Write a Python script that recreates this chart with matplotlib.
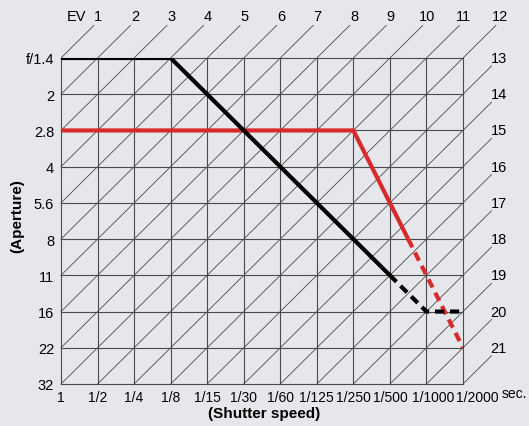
#!/usr/bin/env python3
import matplotlib
matplotlib.use("Agg")
import matplotlib.pyplot as plt
from matplotlib.transforms import ScaledTranslation

# shutter speeds (columns) and apertures (rows), one EV step apart
shutterLabels = ["1", "1/2", "1/4", "1/8", "1/15", "1/30", "1/60", "1/125",
                 "1/250", "1/500", "1/1000", "1/2000"]
apertureLabels = ["f/1.4", "2", "2.8", "4", "5.6", "8", "11", "16", "22", "32"]
evValues = list(range(1, 22))

# program lines as (shutter index, aperture index) vertices
blackSolidX = [0, 3, 9]
blackSolidY = [0, 0, 6]
blackDashX = [9, 10, 11]
blackDashY = [6, 7, 7]
redSolidX = [0, 8, 9.5]
redSolidY = [2, 2, 5]
redDashX = [9.5, 11]
redDashY = [5, 8]

BG = "#e5e7eb"
GRID = "#4a4a4a"
RED = "#d9292b"
tickFont = ["Liberation Sans", "DejaVu Sans"]
FS = 10.5


def main() -> None:
    fig = plt.figure(figsize=(5.29, 4.27), dpi=100, facecolor=BG)
    ax = fig.add_axes([61 / 529, 42 / 427, 402 / 529, 326 / 427])
    ax.set_facecolor(BG)

    nCols = len(shutterLabels) - 1
    nRows = len(apertureLabels) - 1
    ax.set_xlim(0, nCols)
    ax.set_ylim(nRows, 0)

    # square grid
    for c in range(nCols + 1):
        ax.plot([c, c], [0, nRows], color=GRID, lw=0.8, zorder=1, clip_on=False)
    for r in range(nRows + 1):
        ax.plot([0, nCols], [r, r], color=GRID, lw=0.8, zorder=1, clip_on=False)

    # EV diagonals: shutter index + aperture index = EV - 1
    for ev in evValues:
        s = ev - 1
        x0 = max(0, s - nRows)
        x1 = min(nCols, s)
        xs = [x0, x1]
        ys = [s - x0, s - x1]
        if s <= nCols:
            # runs out through the top edge
            xs.append(s + 0.9)
            ys.append(-0.9)
            ax.text(s + 1.02, -1.17, str(ev), ha="center", va="center",
                    fontsize=FS, family=tickFont, clip_on=False)
        else:
            # runs out through the right edge
            xs.append(nCols + 0.78)
            ys.append(s - nCols - 0.78)
            ax.text(nCols + 0.75, s - nCols - 1.0, str(ev), ha="left",
                    va="center", fontsize=FS, family=tickFont, clip_on=False)
        ax.plot(xs, ys, color=GRID, lw=0.6, zorder=1, clip_on=False)

    ax.text(0.68, -1.17, "EV", ha="right", va="center", fontsize=FS,
            family=tickFont, clip_on=False)

    ax.plot(blackSolidX, blackSolidY, color="black", lw=3, zorder=3,
            solid_capstyle="butt", solid_joinstyle="miter")
    ax.plot(blackDashX, blackDashY, color="black", lw=3, zorder=3,
            linestyle=(0, (2.2, 1.4)))
    ax.plot(redSolidX, redSolidY, color=RED, lw=3, zorder=2,
            solid_capstyle="butt")
    ax.plot(redDashX, redDashY, color=RED, lw=3, zorder=2,
            linestyle=(0, (2.2, 1.4)))

    ax.set_xticks(range(nCols + 1))
    ax.set_xticklabels(shutterLabels, fontsize=10, family=tickFont)
    ax.set_yticks(range(nRows + 1))
    ax.set_yticklabels(apertureLabels, fontsize=FS, family=tickFont)
    ax.tick_params(length=0)
    ax.tick_params(axis="x", pad=4)
    ax.tick_params(axis="y", pad=5)
    for side in ax.spines.values():
        side.set_visible(False)

    # the two longest shutter labels are set a little to the right
    xLabels = ax.get_xticklabels()
    for lbl, shift in ((xLabels[-2], 4.7), (xLabels[-1], 10.3)):
        lbl.set_transform(lbl.get_transform()
                          + ScaledTranslation(shift / 72, 0, fig.dpi_scale_trans))

    ax.text(nCols + 1.4, nRows + 0.24, "sec.", ha="center", va="center",
            fontsize=10, family=tickFont, clip_on=False)

    fig.text(17 / 529, 1 - 216 / 427, "(Aperture)", rotation=90,
             ha="center", va="center", fontsize=11, fontweight="bold",
             family=["Liberation Sans", "DejaVu Sans"])
    fig.text(264 / 529, 1 - 414 / 427, "(Shutter speed)", ha="center",
             va="center", fontsize=11, fontweight="bold",
             family=["Liberation Sans", "DejaVu Sans"])

    fig.savefig("out.png", dpi=100, facecolor=BG)


if __name__ == "__main__":
    main()
